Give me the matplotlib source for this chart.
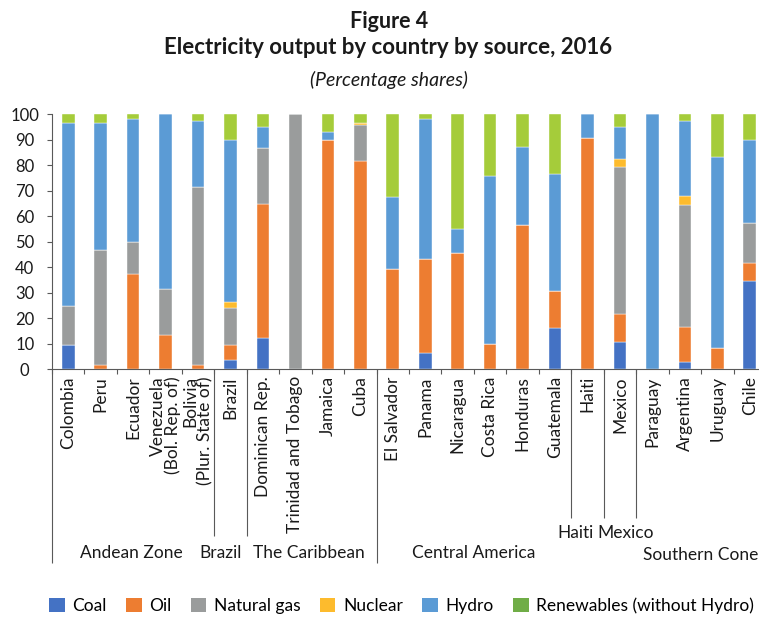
import matplotlib
matplotlib.use("Agg")
import matplotlib.pyplot as plt
import matplotlib.transforms as mtransforms
from matplotlib.patches import Patch
import numpy as np

plt.rcParams['font.family'] = ['Lato', 'DejaVu Sans']

countries = ["Colombia", "Peru", "Ecuador", "Venezuela\n(Bol. Rep. of)", "Bolivia\n(Plur. State of)",
             "Brazil", "Dominican Rep.", "Trinidad and Tobago", "Jamaica", "Cuba",
             "El Salvador", "Panama", "Nicaragua", "Costa Rica", "Honduras", "Guatemala",
             "Haiti", "Mexico", "Paraguay", "Argentina", "Uruguay", "Chile"]

coal       = [9.5, 0, 0, 0, 0, 3.8, 12.4, 0, 0, 0, 0, 6.5, 0, 0, 0, 16.3, 0, 10.6, 0, 3.0, 0, 34.8]
oil        = [0, 1.6, 37.5, 13.3, 1.6, 5.9, 52.6, 0, 90.1, 81.6, 39.2, 36.8, 45.8, 9.8, 56.5, 14.4, 90.8, 11.0, 0, 13.5, 8.2, 6.8]
natural_gas= [15.3, 45.1, 12.4, 18.2, 70.0, 14.4, 21.7, 100, 0, 14.3, 0, 0, 0, 0, 0, 0, 0, 57.6, 0, 47.8, 0, 15.7]
nuclear    = [0, 0, 0, 0, 0, 2.4, 0, 0, 0, 0.5, 0, 0, 0, 0, 0, 0, 0, 3.2, 0, 3.8, 0, 0]
hydro      = [71.9, 50.0, 48.4, 68.5, 25.8, 63.4, 8.2, 0, 3.1, 0, 28.3, 55.0, 9.1, 66.0, 30.8, 46.0, 9.2, 12.5, 100, 29.4, 74.9, 32.6]
renewables = [3.3, 3.3, 1.7, 0, 2.6, 10.1, 5.1, 0, 6.8, 3.6, 32.5, 1.7, 45.1, 24.2, 12.7, 23.3, 0, 5.1, 0, 2.5, 16.9, 10.1]

series_names = ["Coal", "Oil", "Natural gas", "Nuclear", "Hydro", "Renewables (without Hydro)"]

groups = ["Andean Zone", "Brazil", "The Caribbean", "Central America", "Haiti", "Mexico", "Southern Cone"]
group_sizes = [5, 1, 4, 6, 1, 1, 4]

bar_colors = ["#4472c4", "#ed7d31", "#9a9c9c", "#fdbb2d", "#5b9bd5", "#a5cc3a"]
legend_colors = ["#4472c4", "#ed7d31", "#9a9c9c", "#fdbb2d", "#5b9bd5", "#70ad47"]

W, H = 759, 617
fig = plt.figure(figsize=(W / 100, H / 100), dpi=100)
ax_left, ax_right = 52, 766
ax_bottom_px, ax_top_px = 369.3, 114.3
ax = fig.add_axes([ax_left / W, 1 - ax_bottom_px / H, (ax_right - ax_left) / W, (ax_bottom_px - ax_top_px) / H])

x = np.arange(len(countries))
bottom = np.zeros(len(countries))
for vals, col in zip([coal, oil, natural_gas, nuclear, hydro, renewables], bar_colors):
    v = np.array(vals, dtype=float)
    ax.bar(x, v, bottom=bottom, width=0.39, color=col, edgecolor="white", linewidth=0.3)
    bottom += v

axis_col = "#595959"
txt_col = "#1a1a1a"
ax.set_xlim(-0.5, len(countries) - 0.5)
ax.set_ylim(0, 100)
ax.set_yticks(np.arange(0, 101, 10))
ax.set_yticklabels([str(v) for v in range(0, 101, 10)], fontsize=12, color=txt_col)
for lab in ax.get_yticklabels():
    lab.set_horizontalalignment("center")
ax.tick_params(axis="y", length=3.6, width=0.8, color=axis_col, pad=16)

ax.set_xticks(x)
ax.set_xticklabels(countries, rotation=90, fontsize=12.5, color=txt_col, va="top", ha="center",
                   multialignment="right", linespacing=0.92)
ax.tick_params(axis="x", which="major", length=0, pad=5)
ax.set_xticks(np.arange(-0.5, len(countries), 1.0), minor=True)
ax.tick_params(axis="x", which="minor", length=3.6, width=0.8, color=axis_col)

for s in ["top", "right"]:
    ax.spines[s].set_visible(False)
for s in ["left", "bottom"]:
    ax.spines[s].set_color(axis_col)
    ax.spines[s].set_linewidth(0.8)

# group separators and labels (layout in pixels)
trans = mtransforms.blended_transform_factory(ax.transData, ax.transAxes)
def px_to_axes_y(py):
    return (ax_bottom_px - py) / (ax_bottom_px - ax_top_px)

sep_depth_px = {"Andean Zone": 563, "Brazil": 536, "The Caribbean": 536, "Central America": 563,
                "Haiti": 518, "Mexico": 518, "Southern Cone": 518}
label_y_px = {"Andean Zone": 553, "Brazil": 553, "The Caribbean": 553, "Central America": 553,
              "Haiti": 533, "Mexico": 533, "Southern Cone": 555}
label_dx_px = {"Andean Zone": -2, "Brazil": -10, "The Caribbean": -3, "Central America": 0,
               "Haiti": -12, "Mexico": 6, "Southern Cone": 0}
starts = np.cumsum([0] + group_sizes[:-1])
for g, st, n in zip(groups, starts, group_sizes):
    left_b = st - 0.5
    ax.plot([left_b, left_b], [0, px_to_axes_y(sep_depth_px[g])], transform=trans, color=axis_col,
            lw=0.8, clip_on=False, solid_capstyle="butt")
    cx = st + (n - 1) / 2
    off = mtransforms.offset_copy(trans, fig=fig, x=label_dx_px[g], y=0, units="dots")
    ax.text(cx, px_to_axes_y(label_y_px[g]), g, transform=off, ha="center", va="center",
            fontsize=12.5, color=txt_col, clip_on=False)

# titles
fig.text(389 / W, 1 - 21 / H, "Figure 4", ha="center", va="center", fontsize=15.5, fontweight="bold", color=txt_col)
fig.text(388 / W, 1 - 48 / H, "Electricity output by country by source, 2016", ha="center", va="center",
         fontsize=16, fontweight="bold", color=txt_col)
fig.text(389 / W, 1 - 80 / H, "(Percentage shares)", ha="center", va="center", fontsize=14,
         style="italic", color=txt_col)

handles = [Patch(facecolor=c, edgecolor="none") for c in legend_colors]
fig.legend(handles, series_names, loc="center left", bbox_to_anchor=(49 / W, 1 - 606 / H), ncol=6,
           frameon=False, fontsize=12.5, handlelength=0.9, handleheight=0.9, handletextpad=0.45,
           columnspacing=1.1, borderpad=0, borderaxespad=0)

fig.savefig("out.png", dpi=100)
